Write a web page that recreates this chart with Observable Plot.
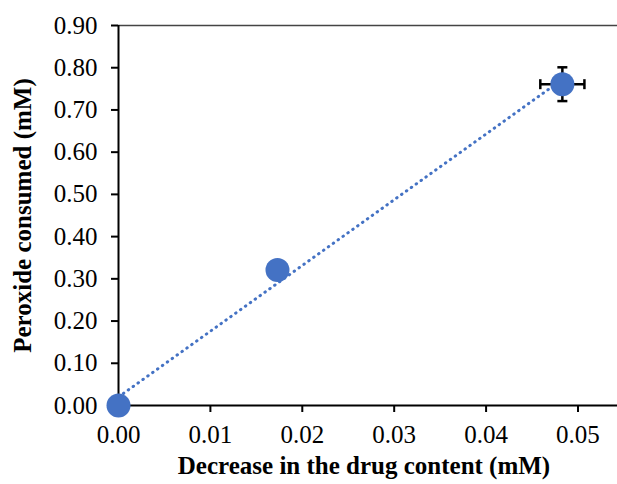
<!DOCTYPE html>
<html>
<head>
<meta charset="utf-8">
<script src="https://cdn.jsdelivr.net/npm/d3@7"></script>
<script src="https://cdn.jsdelivr.net/npm/@observablehq/plot@0.6"></script>
<style>
  body { margin: 0; background: #fff; }
  svg { overflow: visible; }
</style>
</head>
<body>
<div id="chart"></div>
<script>
const xVals = [0, 0.0173, 0.0483];
const yVals = [0, 0.321, 0.761];
const xErr = [0, 0, 0.0024];
const yErr = [0, 0, 0.04];
const xTicks = [0, 0.01, 0.02, 0.03, 0.04, 0.05];
const yTicks = [0, 0.1, 0.2, 0.3, 0.4, 0.5, 0.6, 0.7, 0.8, 0.9];
const xTitle = "Decrease in the drug content (mM)";
const yTitle = "Peroxide consumed (mM)";

const pts = xVals.map((x, i) => ({x, y: yVals[i], ex: xErr[i], ey: yErr[i]}));
const errPts = pts.filter(d => d.ex > 0 || d.ey > 0);

const blue = "#4472C4";
const font = "'Liberation Serif', 'Times New Roman', serif";

const hCap = {draw(ctx) { ctx.moveTo(-5, 0); ctx.lineTo(5, 0); }};
const vCap = {draw(ctx) { ctx.moveTo(0, -5); ctx.lineTo(0, 5); }};

const chart = Plot.plot({
  width: 617,
  height: 484,
  marginLeft: 118,
  marginRight: 0,
  marginTop: 25,
  marginBottom: 79,
  style: {fontFamily: font, fontSize: "25px", color: "#000", background: "#fff"},
  x: {domain: [0, 0.0543]},
  y: {domain: [0, 0.9]},
  marks: [
    Plot.ruleY([0.9], {stroke: "#444", strokeWidth: 1.5}),
    Plot.axisY({ticks: yTicks, tickFormat: d3.format(".2f"), tickSize: 7, tickPadding: 14, strokeWidth: 2, label: null, fontSize: 25}),
    Plot.axisX({ticks: xTicks, tickFormat: d3.format(".2f"), tickSize: 7, tickPadding: 13, strokeWidth: 2, label: null, fontSize: 25}),
    Plot.ruleX([0], {stroke: "#000", strokeWidth: 2}),
    Plot.ruleY([0], {stroke: "#000", strokeWidth: 2}),
    Plot.linearRegressionY(pts, {x: "x", y: "y", ci: 0, stroke: blue, strokeWidth: 3, strokeDasharray: "0.5,5.5", strokeLinecap: "round"}),
    Plot.link(errPts, {x1: d => d.x - d.ex, x2: d => d.x + d.ex, y1: "y", y2: "y", stroke: "#000", strokeWidth: 2.5}),
    Plot.link(errPts, {x1: "x", x2: "x", y1: d => d.y - d.ey, y2: d => d.y + d.ey, stroke: "#000", strokeWidth: 2.5}),
    Plot.dot(errPts, {x: d => d.x - d.ex, y: "y", symbol: vCap, r: 5, stroke: "#000", strokeWidth: 2.5}),
    Plot.dot(errPts, {x: d => d.x + d.ex, y: "y", symbol: vCap, r: 5, stroke: "#000", strokeWidth: 2.5}),
    Plot.dot(errPts, {x: "x", y: d => d.y - d.ey, symbol: hCap, r: 5, stroke: "#000", strokeWidth: 2.5}),
    Plot.dot(errPts, {x: "x", y: d => d.y + d.ey, symbol: hCap, r: 5, stroke: "#000", strokeWidth: 2.5}),
    Plot.dot(pts, {x: "x", y: "y", r: 12, fill: blue, stroke: "none"}),
    Plot.text([yTitle], {frameAnchor: "left", textAnchor: "middle", dx: -96, rotate: -90, fontWeight: "bold", fontSize: 25, fill: "#000"}),
    Plot.text([xTitle], {frameAnchor: "bottom", dy: 68, dx: -4, fontWeight: "bold", fontSize: 25, fill: "#000"})
  ]
});
document.getElementById("chart").appendChild(chart);
</script>
</body>
</html>
